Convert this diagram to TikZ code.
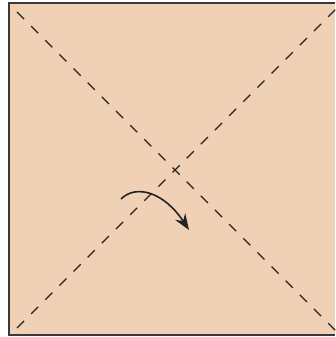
\documentclass[tikz,border=0pt]{standalone}
\usepackage{tikz}
\usetikzlibrary{arrows.meta}
\definecolor{paperpeach}{RGB}{241,209,181}
\definecolor{foldgray}{RGB}{35,35,35}

\begin{document}
\begin{tikzpicture}[x=1pt,y=-1pt]
  \useasboundingbox (0,0) rectangle (335,337);
  % the paper
  \fill[paperpeach] (9,3) rectangle (335,335);
  \draw[foldgray!90,line width=1.1pt] (335,3) -- (9,3) -- (9,335) -- (335,335);
  % fold lines
  \draw[foldgray,line width=1.4pt,dash pattern=on 10pt off 10pt] (17,12) -- (336,331);
  \draw[foldgray,line width=1.4pt,dash pattern=on 10pt off 10pt] (17,328) -- (336,9);
  % turn over
  \coordinate (turnfrom) at (121,199);
  \coordinate (turnto) at (189,230);
  \draw[foldgray,line width=1.6pt,-{Stealth[length=16pt,width=12pt]}]
    (turnfrom) .. controls (136,184) and (164,192) .. (turnto);
\end{tikzpicture}
\end{document}
